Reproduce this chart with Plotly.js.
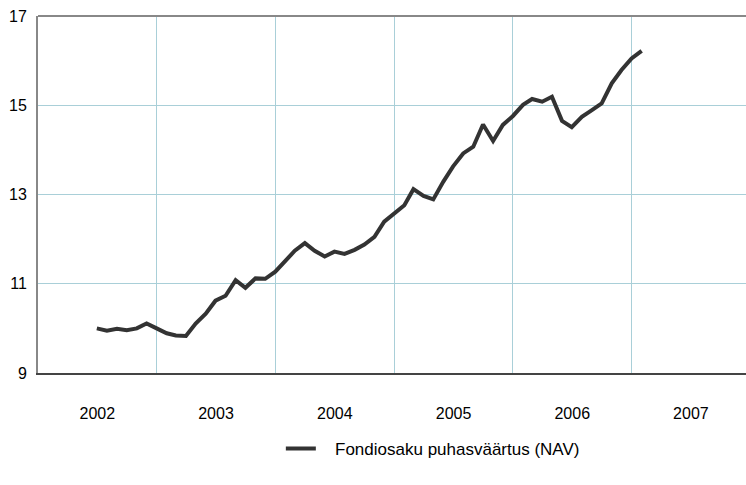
<!DOCTYPE html>
<html>
<head>
<meta charset="utf-8">
<script src="https://cdn.plot.ly/plotly-3.0.1.min.js"></script>
<style>html,body{margin:0;padding:0;background:#fff;}#chart{width:746px;height:485px;}</style>
</head>
<body>
<div id="chart"></div>
<script>
// Monthly NAV, July 2002 .. February 2007
const startMonth = '2002-07';
const navValues = [
  10.00, 9.95, 9.99, 9.96, 10.00, 10.11,
  10.00, 9.89, 9.84, 9.83, 10.11, 10.33, 10.62, 10.73, 11.08, 10.91, 11.12, 11.11,
  11.27, 11.52, 11.74, 11.91, 11.74, 11.61, 11.72, 11.67, 11.76, 11.88, 12.05, 12.39,
  12.58, 12.76, 13.12, 12.97, 12.89, 13.29, 13.63, 13.92, 14.07, 14.57, 14.20, 14.56,
  14.76, 15.01, 15.14, 15.08, 15.19, 14.65, 14.51, 14.74, 14.89, 15.04, 15.49, 15.79,
  16.05, 16.22
];
const seriesName = 'Fondiosaku puhasväärtus (NAV)';
const yTicks = [9, 11, 13, 15, 17];

// build month dates from the start month
const dates = navValues.map((v, i) => {
  const [y0, m0] = startMonth.split('-').map(Number);
  const t = (m0 - 1) + i;
  const y = y0 + Math.floor(t / 12);
  const m = (t % 12) + 1;
  return y + '-' + String(m).padStart(2, '0') + '-01';
});

const trace = {
  x: dates,
  y: navValues,
  type: 'scatter',
  mode: 'lines',
  name: '\u00a0\u00a0\u00a0' + seriesName,
  line: {color: '#333333', width: 4}
};

const layout = {
  width: 746,
  height: 485,
  margin: {l: 38, r: 0, t: 16, b: 112},
  paper_bgcolor: '#ffffff',
  plot_bgcolor: '#ffffff',
  font: {family: 'Liberation Sans, Arial, sans-serif', size: 16, color: '#000000'},
  showlegend: true,
  legend: {
    orientation: 'h',
    x: 0.343, xanchor: 'left',
    y: -0.213, yanchor: 'middle',
    itemwidth: 30,
    font: {size: 17, color: '#000'},
    bgcolor: 'rgba(0,0,0,0)'
  },
  xaxis: {
    type: 'date',
    range: ['2002-01-01', '2007-12-19'],
    dtick: 'M12',
    tick0: '2002-01-01',
    tickformat: '%Y',
    ticklabelmode: 'period',
    ticks: '',
    ticklabelstandoff: 25,
    showgrid: true,
    gridcolor: '#a9cfd8',
    gridwidth: 1,
    showline: true,
    linecolor: '#444444',
    linewidth: 2,
    zeroline: false,
    fixedrange: true
  },
  yaxis: {
    range: [9, 17],
    tickvals: yTicks,
    ticks: '',
    ticklabelstandoff: 6,
    showgrid: true,
    gridcolor: '#a9cfd8',
    gridwidth: 1,
    showline: true,
    linecolor: '#888888',
    linewidth: 2,
    zeroline: false,
    fixedrange: true
  },
  shapes: [{
    type: 'line', xref: 'paper', yref: 'paper',
    x0: 0, x1: 1, y0: 1, y1: 1,
    line: {color: '#888888', width: 2}
  }]
};

Plotly.newPlot('chart', [trace], layout, {displayModeBar: false, staticPlot: true});
</script>
</body>
</html>
